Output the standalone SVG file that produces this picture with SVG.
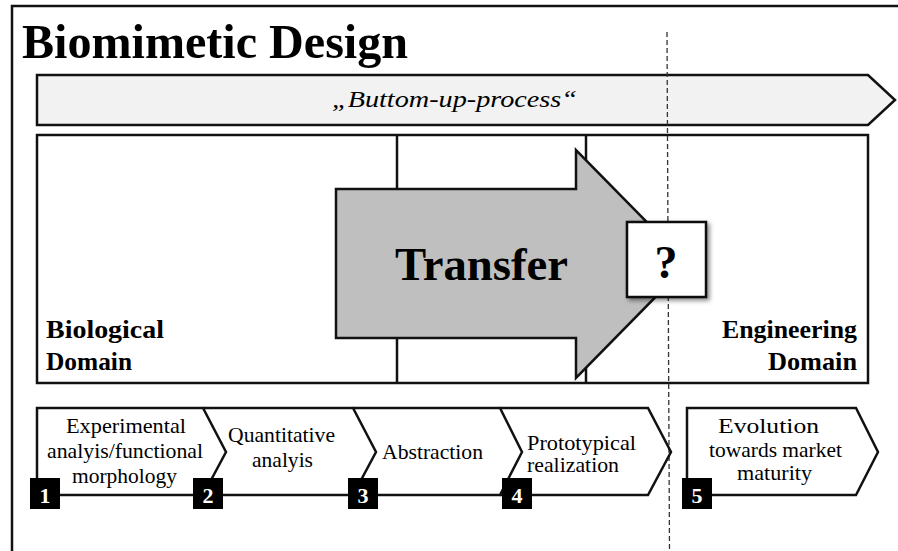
<svg xmlns="http://www.w3.org/2000/svg" width="898" height="551" viewBox="0 0 898 551" font-family="'Liberation Serif', 'Times New Roman', Times, serif">
<style>
.ln{fill:none;stroke:#111;stroke-width:2.5;stroke-linejoin:miter}
.t{fill:#000}
.b{font-weight:bold}
.sq{fill:#000}
.num{font-weight:bold;font-size:22px;fill:#fff;text-anchor:middle}
.step{font-size:21px;fill:#000}
</style>
<defs>
<filter id="sh" x="-20%" y="-20%" width="150%" height="150%">
<feDropShadow dx="2.5" dy="2.5" stdDeviation="2" flood-color="#000" flood-opacity="0.45"/>
</filter>
</defs>
<rect width="898" height="551" fill="#fff"/>
<g id="frame">
<path class="ln" d="M12,551 V6 H898"/>
</g>
<g id="title">
<text class="t b" x="22" y="58" font-size="48" textLength="386" lengthAdjust="spacingAndGlyphs">Biomimetic Design</text>
</g>
<g id="process-band">
<polygon class="ln" points="37,75 868,75 895,100 868,125 37,125" style="fill:#f2f2f2"/>
<text class="t" x="454.5" y="107" font-size="24" font-style="italic" text-anchor="middle" textLength="245" lengthAdjust="spacingAndGlyphs">„Buttom-up-process“</text>
</g>
<g id="domains">
<rect class="ln" x="37" y="135" width="831" height="248"/>
<line class="ln" x1="397" y1="135" x2="397" y2="383"/>
<line class="ln" x1="586" y1="135" x2="586" y2="383"/>
<text class="t b" x="46" y="338" font-size="25" textLength="118" lengthAdjust="spacingAndGlyphs">Biological</text>
<text class="t b" x="46" y="370" font-size="25" textLength="86" lengthAdjust="spacingAndGlyphs">Domain</text>
<text class="t b" x="857" y="338" font-size="25" text-anchor="end" textLength="135" lengthAdjust="spacingAndGlyphs">Engineering</text>
<text class="t b" x="857" y="370" font-size="25" text-anchor="end" textLength="89" lengthAdjust="spacingAndGlyphs">Domain</text>
</g>
<g id="transfer">
<polygon class="ln" points="336,189 576,189 576,150 688,264 576,378 576,338 336,338" style="fill:#bfbfbf"/>
<text class="t b" x="481.5" y="280" font-size="46" text-anchor="middle" textLength="173" lengthAdjust="spacingAndGlyphs">Transfer</text>
</g>
<g id="connectors">
<line x1="667" y1="32" x2="669.5" y2="551" stroke="#333" stroke-width="1.3" stroke-dasharray="5,3"/>
</g>
<g id="question">
<rect class="ln" x="627" y="222" width="79" height="75" style="fill:#fff" filter="url(#sh)"/>
<text class="t b" x="666" y="278" font-size="46" text-anchor="middle">?</text>
</g>
<g id="step1">
<path class="ln" d="M37,495 V408 H203 L226,452 L203,495 Z"/>
<text class="step" x="126" y="433" text-anchor="middle" textLength="120" lengthAdjust="spacingAndGlyphs">Experimental</text>
<text class="step" x="125" y="458" text-anchor="middle" textLength="156" lengthAdjust="spacingAndGlyphs">analyis/functional</text>
<text class="step" x="124.5" y="483" text-anchor="middle" textLength="105" lengthAdjust="spacingAndGlyphs">morphology</text>
<rect class="sq" x="30" y="478" width="30" height="31"/>
<text class="num" x="45" y="503">1</text>
</g>
<g id="step2">
<path class="ln" d="M203,408 H353 L376,452 L353,495 H203"/>
<text class="step" x="281.5" y="442" text-anchor="middle" textLength="107" lengthAdjust="spacingAndGlyphs">Quantitative</text>
<text class="step" x="282.5" y="467" text-anchor="middle" textLength="61" lengthAdjust="spacingAndGlyphs">analyis</text>
<rect class="sq" x="193" y="478" width="30" height="31"/>
<text class="num" x="208" y="503">2</text>
</g>
<g id="step3">
<path class="ln" d="M353,408 H500 L522,452 L500,495 H353"/>
<text class="step" x="432.5" y="459" text-anchor="middle" textLength="101" lengthAdjust="spacingAndGlyphs">Abstraction</text>
<rect class="sq" x="348" y="478" width="30" height="31"/>
<text class="num" x="363" y="503">3</text>
</g>
<g id="step4">
<path class="ln" d="M500,408 H648 L671,452 L648,495 H500"/>
<text class="step" x="527" y="450" textLength="109" lengthAdjust="spacingAndGlyphs">Prototypical</text>
<text class="step" x="527" y="472" textLength="92" lengthAdjust="spacingAndGlyphs">realization</text>
<rect class="sq" x="502" y="478" width="30" height="31"/>
<text class="num" x="517" y="503">4</text>
</g>
<g id="step5">
<path class="ln" d="M687,495 V408 H856 L878,452 L856,495 Z"/>
<text class="step" x="768.5" y="433" text-anchor="middle" textLength="101" lengthAdjust="spacingAndGlyphs">Evolution</text>
<text class="step" x="775.5" y="457" text-anchor="middle" textLength="133" lengthAdjust="spacingAndGlyphs">towards market</text>
<text class="step" x="774.5" y="480" text-anchor="middle" textLength="75" lengthAdjust="spacingAndGlyphs">maturity</text>
<rect class="sq" x="682" y="478" width="30" height="31"/>
<text class="num" x="697" y="503">5</text>
</g>
</svg>
